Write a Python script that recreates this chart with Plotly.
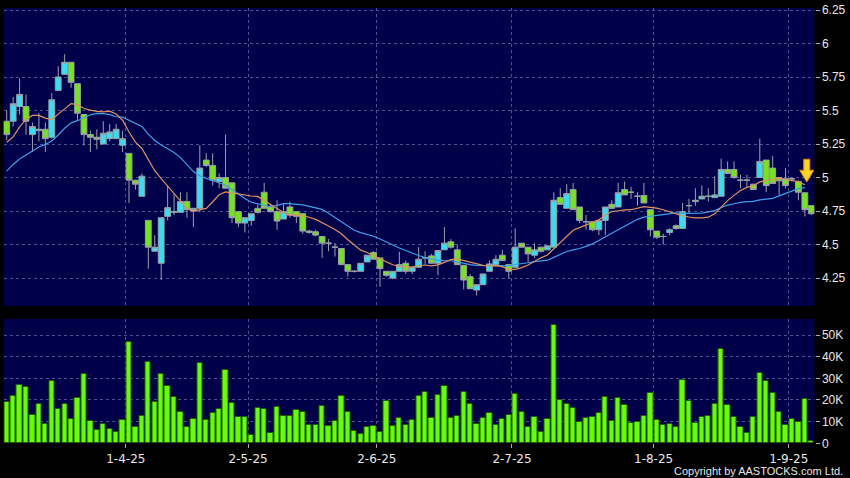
import pandas as pd
import plotly.graph_objects as go

# ---------------- data ----------------
hk_holidays = ["2025-04-04", "2025-04-18", "2025-04-21", "2025-05-01", "2025-05-05", "2025-07-01"]
dates = pd.bdate_range("2025-03-05", "2025-09-04", freq="C", holidays=hk_holidays)

open_ = [5.42, 5.42, 5.53, 5.53, 5.32, 5.35, 5.36, 5.30, 5.65, 5.77,
         5.86, 5.70, 5.47, 5.32, 5.30, 5.25, 5.29, 5.29, 5.24, 5.18,
         4.98, 4.86, 4.68, 4.45, 4.36, 4.71, 4.74, 4.74, 4.82, 4.75,
         4.77, 5.13, 5.09, 4.97, 5.00, 4.96, 4.745, 4.66, 4.68, 4.77,
         4.89, 4.78, 4.745, 4.69, 4.78, 4.745, 4.73, 4.59, 4.595, 4.56,
         4.51, 4.48, 4.47, 4.35, 4.30, 4.30, 4.37, 4.44, 4.40, 4.30,
         4.25, 4.30, 4.36, 4.30, 4.33, 4.40, 4.415, 4.36, 4.46, 4.52,
         4.46, 4.345, 4.26, 4.16, 4.20, 4.30, 4.35, 4.42, 4.35, 4.33,
         4.51, 4.48, 4.42, 4.48, 4.46, 4.48, 4.85, 4.77, 4.91, 4.78,
         4.67, 4.67, 4.61, 4.68, 4.80, 4.78, 4.91, 4.89, 4.86, 4.865,
         4.76, 4.60, 4.56, 4.59, 4.64, 4.62, 4.79, 4.82, 4.84, 4.86,
         4.85, 4.86, 5.06, 5.06, 4.98, 4.98, 4.95, 5.00, 5.13, 5.07,
         5.00, 4.99, 4.99, 4.97, 4.886, 4.79]
high = [5.50, 5.60, 5.74, 5.62, 5.41, 5.48, 5.41, 5.63, 5.83, 5.92,
        5.86, 5.70, 5.47, 5.35, 5.36, 5.42, 5.40, 5.40, 5.35, 5.18,
        4.98, 5.03, 4.68, 4.57, 4.70, 4.94, 4.88, 4.89, 4.89, 4.77,
        5.24, 5.18, 5.18, 5.03, 5.32, 4.96, 4.745, 4.70, 4.73, 4.80,
        4.96, 4.80, 4.83, 4.80, 4.82, 4.75, 4.73, 4.61, 4.61, 4.56,
        4.54, 4.51, 4.47, 4.35, 4.31, 4.36, 4.42, 4.45, 4.40, 4.30,
        4.30, 4.445, 4.38, 4.33, 4.48, 4.45, 4.43, 4.46, 4.63, 4.54,
        4.50, 4.345, 4.28, 4.20, 4.28, 4.38, 4.42, 4.46, 4.35, 4.62,
        4.51, 4.48, 4.51, 4.48, 4.49, 4.89, 4.92, 4.95, 4.96, 4.78,
        4.72, 4.67, 4.68, 4.78, 4.83, 4.96, 4.97, 4.93, 4.89, 4.96,
        4.76, 4.60, 4.58, 4.62, 4.65, 4.81, 4.84, 4.92, 4.94, 4.92,
        5.01, 5.14, 5.12, 5.12, 5.02, 5.02, 4.95, 5.29, 5.13, 5.16,
        5.00, 5.07, 5.00, 4.98, 4.89, 4.79]
low = [5.28, 5.38, 5.47, 5.32, 5.19, 5.27, 5.19, 5.29, 5.65, 5.77,
       5.67, 5.43, 5.24, 5.19, 5.21, 5.25, 5.27, 5.29, 5.19, 4.81,
       4.91, 4.86, 4.32, 4.45, 4.235, 4.68, 4.72, 4.74, 4.70, 4.63,
       4.74, 5.08, 4.94, 4.92, 4.92, 4.66, 4.63, 4.59, 4.64, 4.73,
       4.77, 4.74, 4.61, 4.69, 4.70, 4.66, 4.58, 4.58, 4.56, 4.40,
       4.45, 4.41, 4.35, 4.26, 4.29, 4.30, 4.37, 4.39, 4.185, 4.26,
       4.24, 4.30, 4.28, 4.28, 4.33, 4.35, 4.36, 4.27, 4.46, 4.47,
       4.35, 4.165, 4.17, 4.12, 4.20, 4.30, 4.35, 4.38, 4.25, 4.33,
       4.48, 4.37, 4.40, 4.44, 4.46, 4.48, 4.80, 4.77, 4.76, 4.66,
       4.61, 4.60, 4.57, 4.57, 4.77, 4.78, 4.87, 4.84, 4.79, 4.81,
       4.56, 4.54, 4.50, 4.57, 4.61, 4.62, 4.73, 4.79, 4.84, 4.82,
       4.85, 4.86, 5.03, 4.99, 4.92, 4.93, 4.91, 5.00, 4.89, 4.955,
       4.87, 4.92, 4.97, 4.83, 4.71, 4.72]
close = [5.32, 5.55, 5.62, 5.42, 5.38, 5.36, 5.29, 5.58, 5.75, 5.86,
         5.71, 5.48, 5.32, 5.30, 5.285, 5.33, 5.34, 5.36, 5.29, 4.98,
         4.95, 5.01, 4.48, 4.48, 4.70, 4.775, 4.745, 4.82, 4.76, 4.77,
         5.07, 5.09, 4.98, 5.00, 4.92, 4.70, 4.66, 4.70, 4.73, 4.74,
         4.77, 4.745, 4.675, 4.745, 4.72, 4.71, 4.60, 4.60, 4.57, 4.51,
         4.51, 4.48, 4.35, 4.30, 4.30, 4.36, 4.42, 4.39, 4.32, 4.27,
         4.30, 4.35, 4.30, 4.33, 4.39, 4.40, 4.36, 4.455, 4.51, 4.48,
         4.35, 4.235, 4.17, 4.20, 4.28, 4.355, 4.39, 4.38, 4.30, 4.48,
         4.48, 4.43, 4.46, 4.45, 4.49, 4.83, 4.80, 4.88, 4.76, 4.68,
         4.67, 4.61, 4.68, 4.78, 4.77, 4.886, 4.87, 4.89, 4.86, 4.81,
         4.61, 4.555, 4.56, 4.61, 4.62, 4.745, 4.79, 4.83, 4.86, 4.86,
         4.87, 5.06, 5.03, 5.00, 4.98, 4.98, 4.91, 5.12, 4.94, 4.955,
         4.975, 4.94, 4.99, 4.89, 4.76, 4.73]
volume_k = [19.2, 21.8, 26.8, 26.2, 13.2, 18.2, 9.1, 28.8, 16.0, 18.2,
            11.4, 20.8, 32.2, 10.2, 6.2, 8.9, 6.6, 5.2, 10.8, 46.8,
            7.5, 12.6, 37.5, 19.1, 31.8, 26.3, 21.5, 14.6, 7.4, 11.1,
            37.1, 10.8, 14.0, 15.8, 33.7, 18.5, 12.3, 12.3, 3.7, 16.3,
            16.0, 4.9, 16.6, 12.6, 12.6, 15.4, 14.5, 8.3, 8.5, 17.4,
            8.0, 10.2, 21.8, 14.3, 5.7, 4.2, 7.5, 7.8, 5.4, 19.5,
            8.0, 11.7, 8.3, 10.8, 21.8, 23.8, 11.7, 22.3, 26.6, 11.7,
            12.6, 23.7, 18.0, 9.1, 11.5, 13.8, 8.3, 11.4, 12.9, 22.9,
            14.3, 7.7, 12.2, 5.1, 11.2, 54.5, 20.0, 18.2, 16.5, 10.0,
            11.7, 12.0, 13.8, 21.2, 10.2, 20.8, 17.5, 9.5, 9.7, 12.5,
            23.4, 10.6, 8.5, 8.8, 7.7, 29.1, 19.4, 9.4, 12.3, 12.8,
            18.0, 43.5, 17.5, 12.0, 7.7, 4.9, 12.0, 32.6, 28.9, 23.1,
            14.3, 8.3, 11.4, 9.8, 20.3, 1.2]
# closes before the visible window (inferred from where the average lines start)
prior_close = [4.55, 4.82, 4.82, 4.68, 4.86, 4.89, 5.08, 4.85, 4.86, 4.91,
               5.15, 4.87, 4.87, 5.08, 5.36, 5.49, 5.68, 5.35, 5.46]

tick_dates = ["2025-04-01", "2025-05-02", "2025-06-02", "2025-07-02", "2025-08-01", "2025-09-01"]
tick_labels = ["1-4-25", "2-5-25", "2-6-25", "2-7-25", "1-8-25", "1-9-25"]
price_ticks = [4.25, 4.5, 4.75, 5.0, 5.25, 5.5, 5.75, 6.0, 6.25]
price_labels = ["4.25", "4.5", "4.75", "5", "5.25", "5.5", "5.75", "6", "6.25"]
vol_ticks = [0, 10, 20, 30, 40, 50]
vol_labels = ["0", "10K", "20K", "30K", "40K", "50K"]

# ---------------- derived ----------------
n = len(dates)
x = list(range(n))
date_list = list(dates)
tick_pos = [date_list.index(pd.Timestamp(d)) - 0.5 for d in tick_dates]

allc = pd.Series(prior_close + close)
ma10 = allc.rolling(10).mean().iloc[len(prior_close):].tolist()
ma20 = allc.rolling(20).mean().iloc[len(prior_close):].tolist()

# ---------------- style ----------------
BG = "#000000"
PLOT_BG = "#00004A"
GRID = "#50508E"
CYAN = "#33E0F2"
LIME = "#74E614"
WICK = "#9AA0A8"
VOL = "#66FF00"
VOL_EDGE = "#1E5C00"
ORANGE = "#E0905C"
BLUE = "#3A9FE6"
TXT = "#E6E6E6"

fig = go.Figure()

fig.add_trace(go.Candlestick(
    x=x, open=open_, high=high, low=low, close=close,
    increasing=dict(fillcolor=CYAN, line=dict(color=WICK, width=1)),
    decreasing=dict(fillcolor=LIME, line=dict(color=WICK, width=1)),
    whiskerwidth=0, showlegend=False, xaxis="x", yaxis="y", hoverinfo="skip"))

fig.add_trace(go.Scatter(x=x[:-1], y=ma20[:-1], mode="lines",
                         line=dict(color=BLUE, width=1.2), showlegend=False,
                         xaxis="x", yaxis="y", hoverinfo="skip"))
fig.add_trace(go.Scatter(x=x[:-1], y=ma10[:-1], mode="lines",
                         line=dict(color=ORANGE, width=1.2), showlegend=False,
                         xaxis="x", yaxis="y", hoverinfo="skip"))

fig.add_trace(go.Bar(x=x, y=volume_k, width=0.82,
                     marker=dict(color=VOL, line=dict(color=VOL_EDGE, width=1)),
                     showlegend=False, xaxis="x2", yaxis="y2", hoverinfo="skip"))

# down arrow marker near the last session
tx = x[-2] + 0.3
ty = ma10[-2] + 0.02
arrow = (f"M {tx},{ty} L {tx-1.09},{ty+0.088} L {tx-0.47},{ty+0.088} "
         f"L {tx-0.47},{ty+0.17} L {tx+0.47},{ty+0.17} L {tx+0.47},{ty+0.088} "
         f"L {tx+1.09},{ty+0.088} Z")
fig.add_shape(type="path", path=arrow, xref="x", yref="y",
              fillcolor="#FFD21F", line=dict(color="#E08A00", width=1), layer="above")

xdom = [3.5 / 850, 814.5 / 850]
axis_font = dict(family="Arial, Liberation Sans, sans-serif", size=12, color=TXT)
grid = dict(showgrid=True, gridcolor=GRID, griddash="3px,3px", gridwidth=1,
            zeroline=False, showline=False, automargin=False)

fig.update_layout(
    width=850, height=478,
    margin=dict(l=0, r=0, t=0, b=0, pad=0, autoexpand=False),
    paper_bgcolor=BG, plot_bgcolor=PLOT_BG,
    showlegend=False,
    boxgap=0.05, boxgroupgap=0.05,
    xaxis=dict(domain=xdom, anchor="y", range=[-0.5, n - 0.5],
               tickvals=tick_pos, showticklabels=False, ticks="",
               rangeslider=dict(visible=False), **grid),
    yaxis=dict(domain=[1 - 306 / 478, 1 - 8 / 478], anchor="x", side="right",
               range=[4.041, 6.265], tickvals=price_ticks, ticktext=price_labels,
               ticks="outside", ticklen=4, tickcolor="#AAAAAA", tickfont=axis_font,
               **grid),
    xaxis2=dict(domain=xdom, anchor="y2", range=[-0.5, n - 0.5],
                tickvals=tick_pos, ticktext=tick_labels,
                ticks="outside", ticklen=4, tickcolor="#AAAAAA",
                tickfont=dict(family="DejaVu Sans, sans-serif", size=12, color=TXT),
                **grid),
    yaxis2=dict(domain=[1 - 443.3 / 478, 1 - 319 / 478], anchor="x2", side="right",
                range=[0, 57.4], tickvals=vol_ticks, ticktext=vol_labels,
                ticks="outside", ticklen=4, tickcolor="#AAAAAA", tickfont=axis_font,
                **grid),
    bargap=0,
)

fig.add_annotation(text="Copyright by AASTOCKS.com Ltd.", xref="paper", yref="paper",
                   x=845 / 850, y=1 - 471 / 478, xanchor="right", yanchor="middle",
                   showarrow=False,
                   font=dict(family="Arial, Liberation Sans, sans-serif", size=11, color=TXT))

fig.write_html("out.html", config={"displayModeBar": False},
               post_script="document.body.style.margin='0px';document.body.style.background='#000';")
